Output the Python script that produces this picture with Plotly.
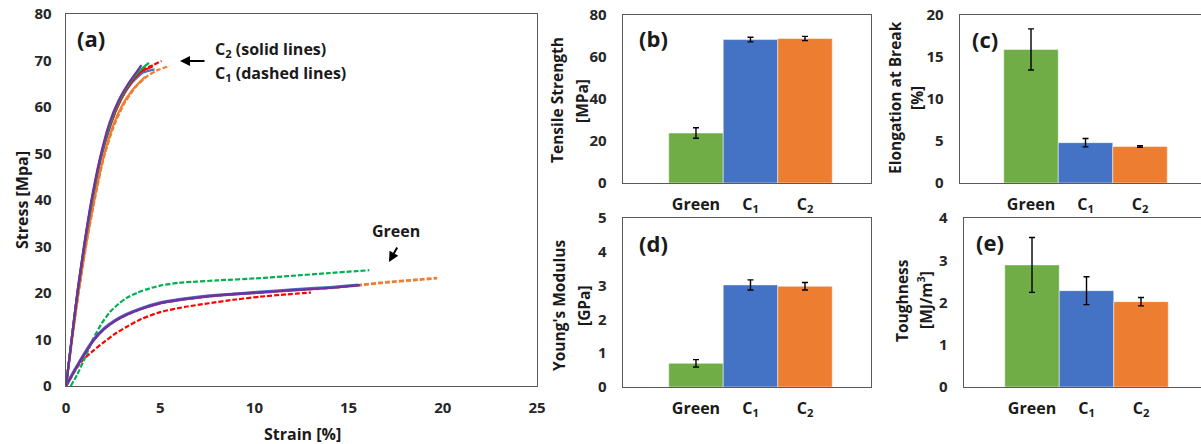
import plotly.graph_objects as go

OFF = 0
W, H = 1201, 444

# ---------------- data: panel (a) stress-strain curves ----------------
# C2 (solid) and C1 (dashed) steep curves
c2_purple_x = [0, 0.3, 0.6, 0.95, 1.35, 1.8, 2.3, 2.8, 3.3, 3.7, 4.0]
c2_purple_y = [0, 10, 20, 30, 40, 49, 56.5, 61.5, 65, 67.3, 69.0]
c2_blue_x = [0, 0.3, 0.62, 0.98, 1.4, 1.85, 2.4, 2.9, 3.5, 4.1, 4.7]
c2_blue_y = [0, 10, 20, 30, 40, 49, 56.5, 61.5, 65.2, 67.4, 68.1]
c2_green_x = [0, 0.3, 0.6, 0.96, 1.37, 1.82, 2.35, 2.85, 3.4, 3.9, 4.4]
c2_green_y = [0, 10, 20, 30, 40, 49, 56.5, 61.5, 65.3, 67.8, 69.5]
c2_red_x = [0, 0.3, 0.61, 0.97, 1.38, 1.84, 2.38, 2.9, 3.45, 4.0, 4.6]
c2_red_y = [0, 10, 20, 30, 40, 49, 56.5, 61.5, 65.2, 67.6, 68.7]
c2_orange_x = [0, 0.32, 0.66, 1.05, 1.5, 1.98, 2.5, 3.0, 3.5, 3.9, 4.2]
c2_orange_y = [0, 10, 20, 30, 40, 49, 56, 60.5, 63.5, 65.3, 66.5]
c1_red_x = [0, 0.3, 0.6, 0.96, 1.37, 1.83, 2.37, 2.9, 3.45, 4.0, 4.6, 5.07]
c1_red_y = [0, 10, 20, 30, 40, 49, 56.5, 61.5, 65.3, 67.8, 69.0, 69.9]
c1_orange_x = [0, 0.33, 0.67, 1.06, 1.52, 2.0, 2.55, 3.1, 3.7, 4.3, 4.9, 5.5]
c1_orange_y = [0, 10, 20, 30, 40, 49, 56, 60.8, 64.3, 66.6, 68.0, 68.8]

# Green samples
g_purple_x = [0, 0.5, 1.0, 1.45, 2.0, 2.6, 3.2, 4.0, 5.0, 6.0, 7.6, 9.0, 10.3, 12.0, 14.0, 15.6]
g_purple_y = [0, 3.6, 7.0, 9.8, 12.2, 14.0, 15.3, 16.6, 17.8, 18.5, 19.3, 19.8, 20.1, 20.6, 21.1, 21.7]
g_blue_x = [0, 0.5, 1.0, 1.45, 2.0, 2.6, 3.2, 4.0, 5.0, 6.0, 7.6, 9.0, 10.3, 12.0, 14.0, 15.5]
g_blue_y = [0, 3.7, 7.1, 9.9, 12.3, 14.1, 15.4, 16.7, 17.9, 18.6, 19.4, 19.8, 20.2, 20.7, 21.2, 21.7]
g_green_x = [0.25, 0.6, 1.0, 1.45, 1.9, 2.33, 2.8, 3.2, 3.8, 4.45, 5.0, 6.0, 6.7, 8.0, 10.3, 12.0, 14.0, 16.1]
g_green_y = [0, 2.5, 6.0, 10.2, 13.5, 15.9, 17.7, 18.9, 20.1, 21.0, 21.6, 22.2, 22.4, 22.7, 23.2, 23.7, 24.3, 24.9]
g_red_x = [0, 0.5, 0.9, 1.45, 2.0, 2.6, 3.2, 4.0, 5.0, 6.3, 7.6, 9.0, 10.3, 11.7, 13.0]
g_red_y = [0, 3.4, 5.6, 7.6, 9.4, 11.2, 12.7, 14.4, 15.9, 17.0, 17.8, 18.6, 19.2, 19.7, 20.1]
g_orange_x = [0, 0.5, 1.0, 1.45, 2.0, 2.6, 3.2, 4.0, 5.0, 6.0, 7.6, 9.0, 10.3, 12.0, 14.0, 15.6, 17.0, 18.5, 19.7]
g_orange_y = [0, 3.6, 7.0, 9.8, 12.2, 14.0, 15.3, 16.6, 17.8, 18.5, 19.3, 19.8, 20.1, 20.6, 21.1, 21.7, 22.3, 22.8, 23.2]

# ---------------- data: bar panels ----------------
categories = ["Green", "C<sub>1</sub>", "C<sub>2</sub>"]
bar_colors = ["#70AD47", "#4472C4", "#ED7D31"]
tensile = [23.8, 68.3, 68.8]
tensile_err = [2.5, 1.1, 1.0]
elong = [15.9, 4.8, 4.35]
elong_err = [2.45, 0.5, 0.1]
modulus = [0.70, 3.02, 2.98]
modulus_err = [0.11, 0.15, 0.11]
tough = [2.89, 2.28, 2.02]
tough_err = [0.65, 0.33, 0.10]

PURPLE, BLUE, GREEN, RED, ORANGE = "#7030A0", "#4472C4", "#00B050", "#FF0000", "#ED7D31"
FONT = "Open Sans"


def px(x):
    return min(1.0, max(0.0, (x - OFF) / W))


def py(y):
    return min(1.0, max(0.0, 1 - (y - OFF) / H))


fig = go.Figure()

DASH = "5px,2px"


def line(x, y, color, dash=None, width=2.2):
    fig.add_trace(go.Scatter(x=x, y=y, mode="lines", xaxis="x", yaxis="y",
                             line=dict(color=color, width=width, dash=dash or "solid",
                                       shape="spline", smoothing=0.6),
                             showlegend=False, hoverinfo="skip"))


# low curves
line(g_red_x, g_red_y, RED, DASH)
line(g_green_x, g_green_y, GREEN, DASH)
line(g_orange_x, g_orange_y, ORANGE, DASH, width=2.8)
line(g_blue_x, g_blue_y, BLUE, width=3.0)
line(g_purple_x, g_purple_y, PURPLE, width=2.4)
# steep curves
line(c1_orange_x, c1_orange_y, ORANGE, DASH)
line(c1_red_x, c1_red_y, RED, DASH)
line(c2_orange_x, c2_orange_y, ORANGE)
line(c2_blue_x, c2_blue_y, BLUE)
line(c2_red_x, c2_red_y, RED)
line(c2_green_x, c2_green_y, GREEN)
line(c2_purple_x, c2_purple_y, PURPLE)


def bars(vals, errs, n):
    fig.add_trace(go.Bar(x=[0, 1, 2], y=vals, width=1.0, xaxis=f"x{n}", yaxis=f"y{n}",
                         marker=dict(color=bar_colors, line=dict(color="rgba(255,255,255,0.6)", width=0.8)),
                         error_y=dict(type="data", array=errs, color="black", thickness=1.4, width=3),
                         showlegend=False, hoverinfo="skip"))


bars(tensile, tensile_err, 2)
bars(elong, elong_err, 3)
bars(modulus, modulus_err, 4)
bars(tough, tough_err, 5)

LINEC = "#595959"
TICKFONT = dict(family=FONT, size=15, color="#262626", weight="bold")

layout = dict(
    template="none",
    width=W, height=H, margin=dict(l=0, r=0, t=0, b=0, pad=0), autosize=False,
    paper_bgcolor="white", plot_bgcolor="white",
    font=dict(family=FONT, color="#1a1a1a"),
    bargap=0, showlegend=False, hovermode=False,
    xaxis=dict(domain=[px(66), px(537)], range=[0, 25], dtick=5, showline=True, mirror=True,
               linecolor=LINEC, linewidth=1.3, showgrid=False, zeroline=False, ticks="",
               tickfont=TICKFONT, ticklabelstandoff=8, anchor="y", automargin=False,
               ticklabeloverflow="allow"),
    yaxis=dict(domain=[py(386), py(14)], range=[0, 80], dtick=10, showline=True, mirror=True,
               linecolor=LINEC, linewidth=1.3, showgrid=False, zeroline=False, ticks="",
               tickfont=TICKFONT, ticklabelstandoff=10, anchor="x", automargin=False,
               ticklabeloverflow="allow"),
)

bar_axes = {
    2: dict(xd=[623, 871], yd=[183, 15], xr=[-1.339, 3.211], yr=[0, 80], dt=20, box=True),
    3: dict(xd=[960, 1201], yd=[183, 15], xr=[-1.303, 3.119], yr=[0, 20], dt=5, box=False),
    4: dict(xd=[623, 871], yd=[387, 218], xr=[-1.339, 3.211], yr=[0, 5], dt=1, box=True),
    5: dict(xd=[964, 1201], yd=[387, 218], xr=[-1.248, 3.101], yr=[0, 4], dt=1, box=False),
}
for n, a in bar_axes.items():
    layout[f"xaxis{n}"] = dict(domain=[px(a["xd"][0]), px(a["xd"][1])], range=a["xr"],
                               tickvals=[0, 1, 2], ticktext=categories, showline=True, mirror=True,
                               linecolor=LINEC, linewidth=1.3, showgrid=False, zeroline=False,
                               ticks="", tickfont=dict(family=FONT, size=16, color="#1a1a1a", weight="bold"),
                               ticklabelstandoff=6, anchor=f"y{n}", automargin=False,
                               ticklabeloverflow="allow")
    layout[f"yaxis{n}"] = dict(domain=[py(a["yd"][0]), py(a["yd"][1])], range=a["yr"], dtick=a["dt"],
                               showline=True, mirror=a["box"], linecolor=LINEC, linewidth=1.3,
                               showgrid=False, zeroline=False, ticks="", tickfont=TICKFONT,
                               ticklabelstandoff=12, anchor=f"x{n}", automargin=False,
                               ticklabeloverflow="allow")

fig.update_layout(**layout)


def text(x, y, s, size=15, angle=0, xanchor="center"):
    fig.add_annotation(x=px(x), y=py(y), xref="paper", yref="paper", text=s, showarrow=False,
                       textangle=angle, xanchor=xanchor, yanchor="middle",
                       font=dict(family=FONT, size=size, color="#1a1a1a", weight="bold"))


# panel labels
text(91, 38, "(a)", 22)
text(654, 38, "(b)", 22)
text(985, 39, "(c)", 22)
text(654, 243, "(d)", 22)
text(990, 242, "(e)", 22)

# panel (a) annotations
text(213, 50, "C<sub>2</sub> (solid lines)", 16, xanchor="left")
text(213, 73, "C<sub>1</sub> (dashed lines)", 16, xanchor="left")
text(396, 231, "Green", 16)
fig.add_annotation(x=px(180), y=py(61), xref="paper", yref="paper", ax=26, ay=0, text="",
                   showarrow=True, arrowhead=2, arrowsize=1, arrowwidth=2, arrowcolor="black")
fig.add_annotation(x=px(389), y=py(262), xref="paper", yref="paper", ax=9, ay=-16, text="",
                   showarrow=True, arrowhead=2, arrowsize=1, arrowwidth=2, arrowcolor="black")

# axis titles
text(22, 200, "Stress [Mpa]", 16, angle=-90)
text(302, 434, "Strain [%]", 16)
text(557, 100, "Tensile Strength", 15.5, angle=-90)
text(582, 101, "[MPa]", 15.5, angle=-90)
text(895, 98, "Elongation at Break", 15.5, angle=-90)
text(917, 98, "[%]", 15.5, angle=-90)
text(559, 306, "Young's Modulus", 15.5, angle=-90)
text(584, 306, "[GPa]", 15.5, angle=-90)
text(902, 301, "Toughness", 15.5, angle=-90)
text(925, 300, "[MJ/m<sup>3</sup>]", 15.5, angle=-90)

fig.write_html("out.html", config={"displayModeBar": False, "staticPlot": True},
               post_script="document.body.style.margin='0';document.body.style.overflow='hidden';")
